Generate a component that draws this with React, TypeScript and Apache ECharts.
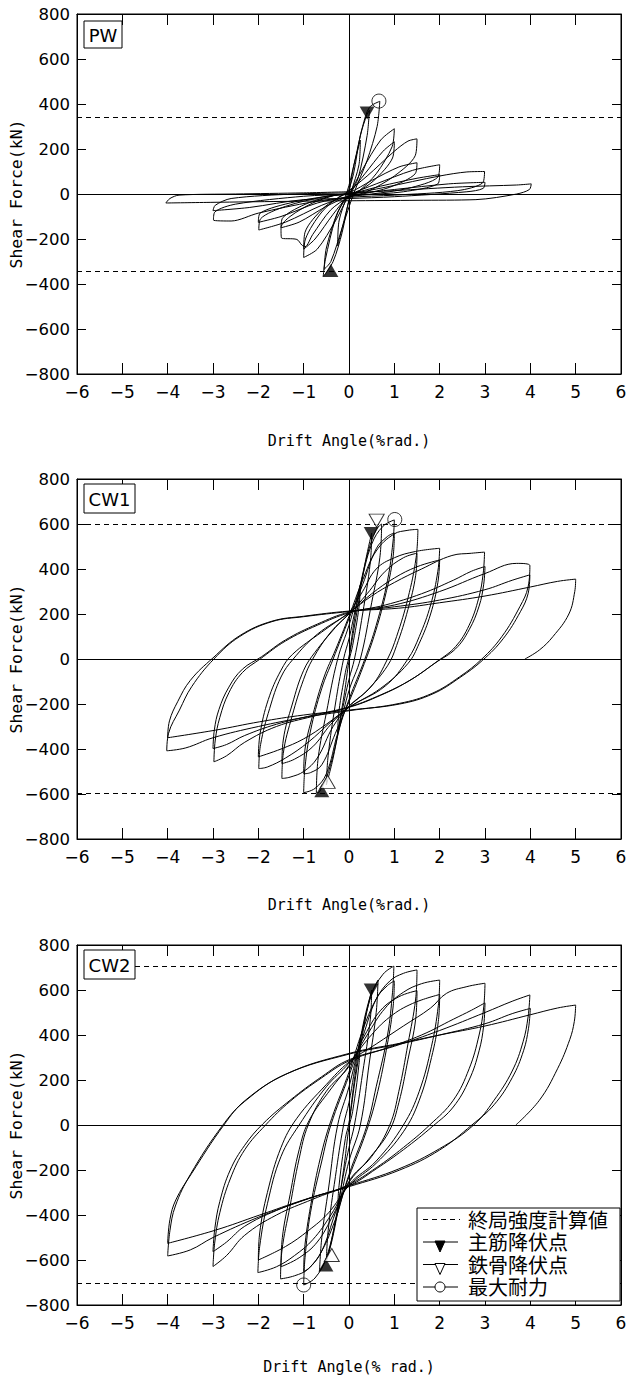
import React, { useEffect, useRef } from "react";
import * as echarts from "echarts";

const FONT_LEGEND = "'Liberation Sans', 'Noto Sans CJK JP', sans-serif";
const FONT_TICK = "'DejaVu Sans', 'Noto Sans', sans-serif";
const FONT_TITLE = "'DejaVu Sans Mono', 'Liberation Mono', monospace";

// ---- axis ticks ----
const xMin = -6, xMax = 6, xStep = 1;
const yMin = -800, yMax = 800, yStep = 200;

// ---- panel labels / titles ----
const panelNames = ["PW", "CW1", "CW2"];
const xTitles = ["Drift Angle(%rad.)", "Drift Angle(%rad.)", "Drift Angle(% rad.)"];
const yTitle = "Shear Force(kN)";
const legendTexts = ["終局強度計算値", "主筋降伏点", "鉄骨降伏点", "最大耐力"];

// ---- ultimate strength (dashed lines) ----
const ultimateStrength = [343, 598, 705];

// ---- PW hysteresis (drift %rad, shear kN) ----
const pwLoop1 = [[0,0],[0.1,120],[0.25,240],[0.22,130],[0.05,10],[-0.1,-110],[-0.25,-230],[-0.22,-120],[-0.05,-10]];
const pwLoop2 = [[0.1,90],[0.25,260],[0.4,355],[0.45,372],[0.4,260],[0.2,70],[0.02,-10],[-0.15,-170],[-0.35,-300],[-0.57,-368],[-0.52,-290],[-0.3,-110],[-0.05,5]];
const pwLoop3 = [[0.12,140],[0.3,300],[0.45,385],[0.68,412],[0.62,300],[0.4,150],[0.1,0],[-0.15,-150],[-0.4,-300],[-0.55,-335],[-0.5,-240],[-0.25,-80],[0,0]];
const pwLoop4 = [[0.3,110],[0.7,240],[1.0,290],[0.95,210],[0.6,90],[0.2,10],[0,-10],[-0.3,-120],[-0.7,-245],[-1.0,-282],[-0.96,-200],[-0.6,-80],[-0.2,-10],[0,5]];
const pwLoop5 = [[0.35,90],[0.75,190],[1.0,232],[0.96,160],[0.55,60],[0.15,5],[0,-5],[-0.35,-90],[-0.75,-200],[-1.0,-245],[-0.97,-170],[-0.55,-60],[-0.1,0]];
const pwLoop6 = [[0.4,80],[1.0,190],[1.3,235],[1.5,245],[1.46,170],[1.0,80],[0.4,10],[0,-15],[-0.4,-70],[-0.8,-180],[-0.97,-234],[-1.04,-227],[-1.15,-202],[-1.49,-195],[-1.5,-150],[-1.3,-100],[-0.8,-40],[-0.3,-5],[0,5]];
const pwLoop7 = [[0.5,60],[1.1,120],[1.5,139],[1.46,90],[0.9,30],[0.3,0],[0,-10],[-0.5,-55],[-1.1,-125],[-1.5,-150],[-1.46,-105],[-0.9,-40],[-0.3,-5],[0,0]];
const pwLoop8 = [[0.6,45],[1.4,105],[2.0,130],[1.96,75],[1.3,25],[0.5,0],[0,-10],[-0.6,-50],[-1.4,-125],[-1.99,-160],[-1.95,-110],[-1.4,-55],[-0.5,-10],[0,0]];
const pwLoop9 = [[0.7,35],[1.5,70],[2.0,86],[1.96,45],[1.2,10],[0.3,-5],[0,-12],[-0.7,-40],[-1.5,-100],[-2.0,-126],[-1.96,-85],[-1.2,-35],[-0.3,-5],[0,0]];
const pwLoop10 = [[0.8,30],[2.0,80],[2.6,98],[2.99,100],[2.95,50],[2.4,15],[1.0,-5],[0,-15],[-0.8,-35],[-2.0,-85],[-2.6,-120],[-2.99,-116],[-2.96,-80],[-2.5,-45],[-1.0,-10],[0,0]];
const pwLoop11 = [[1.0,20],[2.2,45],[3.0,52],[2.96,25],[2.6,10],[1.0,-12],[0,-20],[-1.0,-25],[-2.2,-60],[-3.0,-74],[-2.95,-50],[-2.6,-20],[-1.2,0],[0,5]];
const pwLoop12 = [[1.0,15],[2.5,32],[3.7,40],[4.02,45],[3.98,20],[3.7,0],[2.8,-25],[1.5,-28],[0,-30],[-1.5,-33],[-3.0,-37],[-4.04,-40],[-3.95,-20],[-3.75,-5],[-2.5,0],[-1.0,5],[0,10]];

// ---- CW1 hysteresis ----
const cw1Loop1 = [[0,0],[0.1,150],[0.25,330],[0.22,230],[0.08,60],[0,-10],[-0.1,-150],[-0.25,-330],[-0.22,-230],[-0.08,-60],[0,10]];
const cw1Loop2 = [[0.15,180],[0.35,420],[0.5,560],[0.47,430],[0.3,200],[0.12,0],[0,-90],[-0.15,-230],[-0.35,-440],[-0.5,-560],[-0.46,-430],[-0.3,-200],[-0.12,0],[0,90]];
const cw1Loop3 = [[0.15,230],[0.4,460],[0.6,575],[0.72,600],[0.68,450],[0.5,250],[0.25,0],[0,-140],[-0.2,-300],[-0.45,-500],[-0.65,-590],[-0.72,-595],[-0.68,-440],[-0.5,-240],[-0.25,0],[0,150]];
const cw1Loop4 = [[0.25,330],[0.5,510],[0.75,590],[1.0,618],[0.97,520],[0.85,350],[0.6,150],[0.35,0],[0,-180],[-0.25,-330],[-0.5,-510],[-0.75,-575],[-1.0,-594],[-0.97,-480],[-0.85,-320],[-0.6,-130],[-0.35,0],[0,180]];
const cw1Loop5 = [[0.3,330],[0.6,490],[0.85,545],[1.0,560],[0.97,450],[0.8,280],[0.55,100],[0.3,-40],[0,-190],[-0.3,-330],[-0.6,-470],[-0.85,-505],[-1.0,-510],[-0.97,-400],[-0.8,-250],[-0.55,-80],[-0.3,40],[0,190]];
const cw1Loop6 = [[0.3,350],[0.6,480],[0.99,555],[1.3,572],[1.52,576],[1.48,450],[1.3,270],[1.05,100],[0.85,0],[0.5,-120],[0,-210],[-0.35,-300],[-0.7,-440],[-1.0,-500],[-1.3,-525],[-1.48,-531],[-1.45,-420],[-1.25,-250],[-1.0,-90],[-0.8,0],[-0.4,120],[0,200]];
const cw1Loop7 = [[0.4,290],[0.8,390],[1.2,450],[1.5,470],[1.47,370],[1.3,220],[1.05,60],[0.85,-30],[0.4,-140],[0,-210],[-0.4,-290],[-0.8,-390],[-1.2,-445],[-1.48,-465],[-1.45,-360],[-1.25,-200],[-1.0,-50],[-0.75,30],[-0.3,140],[0,205]];
const cw1Loop8 = [[0.3,300],[0.6,400],[1.0,450],[1.47,478],[2.0,492],[1.96,390],[1.8,240],[1.55,100],[1.3,0],[0.8,-120],[0,-215],[-0.4,-280],[-0.9,-370],[-1.4,-440],[-1.8,-480],[-1.99,-487],[-1.95,-380],[-1.75,-220],[-1.5,-80],[-1.23,0],[-0.7,110],[0,205]];
const cw1Loop9 = [[0.5,290],[1.0,360],[1.5,410],[2.0,440],[1.96,340],[1.8,200],[1.55,70],[1.3,-20],[0.7,-130],[0,-215],[-0.5,-290],[-1.0,-355],[-1.5,-400],[-2.0,-435],[-1.96,-330],[-1.78,-180],[-1.5,-50],[-1.25,20],[-0.6,120],[0,205]];
const cw1Loop10 = [[0.5,280],[1.0,340],[1.6,400],[2.27,460],[2.7,470],[2.99,475],[2.96,380],[2.86,270],[2.65,150],[2.35,55],[1.95,-10],[1.3,-100],[0.6,-170],[0,-215],[-0.8,-255],[-1.6,-300],[-2.3,-370],[-2.7,-430],[-2.98,-457],[-2.95,-360],[-2.85,-260],[-2.65,-150],[-2.35,-60],[-1.96,0],[-1.4,80],[-0.7,150],[0,205]];
const cw1Loop11 = [[0.8,240],[1.6,290],[2.3,350],[2.7,390],[3.0,411],[2.97,330],[2.87,235],[2.65,130],[2.35,45],[1.92,-15],[1.3,-100],[0.6,-168],[0,-213],[-0.8,-250],[-1.6,-290],[-2.3,-340],[-2.7,-380],[-3.0,-398],[-2.97,-315],[-2.87,-225],[-2.65,-125],[-2.35,-45],[-1.93,10],[-1.4,85],[-0.7,155],[0,208]];
const cw1Loop12 = [[1.0,240],[2.0,300],[3.0,380],[3.7,425],[3.99,415],[3.95,320],[3.77,233],[3.37,99],[2.93,0],[2.44,-79],[1.83,-153],[1.12,-197],[0,-230],[-1.0,-260],[-2.0,-300],[-3.0,-350],[-3.6,-395],[-4.02,-408],[-3.98,-330],[-3.74,-227],[-3.47,-123],[-2.98,0],[-2.41,100],[-1.7,166],[-1.0,188],[0,211]];
const cw1Loop13 = [[1.0,232],[2.0,262],[3.0,308],[3.6,350],[3.99,374],[3.95,290],[3.78,210],[3.4,90],[2.95,-5],[2.45,-82],[1.85,-155],[1.12,-200],[0,-227],[-1.0,-249],[-1.97,-279],[-2.94,-316],[-4.0,-350],[-3.96,-275],[-3.78,-190],[-3.5,-95],[-3.0,5],[-2.4,105],[-1.7,168],[-1.0,190],[0,213]];
const cw1Loop14 = [[1.1,226],[2.0,250],[3.0,280],[4.0,320],[4.6,345],[5.0,355],[4.98,300],[4.85,200],[4.5,100],[4.2,40],[3.88,0]];

// ---- CW2 hysteresis ----
const cw2Loop1 = [[0,0],[0.1,170],[0.25,380],[0.22,270],[0.08,60],[0,-10],[-0.1,-170],[-0.25,-380],[-0.22,-270],[-0.08,-60],[0,10]];
const cw2Loop2 = [[0.15,220],[0.35,460],[0.5,600],[0.47,470],[0.3,230],[0.12,0],[0,-100],[-0.15,-250],[-0.35,-480],[-0.5,-610],[-0.46,-470],[-0.3,-230],[-0.12,0],[0,100]];
const cw2Loop3 = [[0.2,330],[0.45,560],[0.64,644],[0.6,500],[0.45,280],[0.25,0],[0,-160],[-0.2,-340],[-0.45,-570],[-0.65,-650],[-0.6,-500],[-0.45,-280],[-0.25,0],[0,170]];
const cw2Loop4 = [[0.25,380],[0.5,580],[0.75,670],[0.99,706],[0.96,590],[0.85,400],[0.6,170],[0.4,0],[0,-220],[-0.25,-390],[-0.5,-590],[-0.75,-680],[-1.0,-711],[-0.97,-590],[-0.85,-390],[-0.6,-160],[-0.4,0],[0,220]];
const cw2Loop5 = [[0.3,390],[0.6,560],[0.85,620],[1.0,640],[0.97,520],[0.82,330],[0.6,120],[0.38,-30],[0,-230],[-0.3,-390],[-0.6,-560],[-0.85,-630],[-1.0,-652],[-0.97,-530],[-0.82,-330],[-0.6,-120],[-0.38,30],[0,235]];
const cw2Loop6 = [[0.3,420],[0.6,560],[0.9,640],[1.2,674],[1.5,689],[1.47,560],[1.3,360],[1.1,150],[0.9,0],[0.5,-140],[0,-250],[-0.3,-420],[-0.6,-560],[-0.9,-640],[-1.2,-670],[-1.51,-684],[-1.48,-560],[-1.3,-360],[-1.1,-150],[-0.9,0],[-0.5,150],[0,260]];
const cw2Loop7 = [[0.35,400],[0.7,510],[1.1,570],[1.5,597],[1.47,470],[1.3,290],[1.1,100],[0.88,-30],[0.4,-160],[0,-255],[-0.35,-400],[-0.7,-520],[-1.1,-590],[-1.5,-630],[-1.47,-500],[-1.3,-310],[-1.1,-110],[-0.88,20],[-0.4,160],[0,265]];
const cw2Loop8 = [[0.4,400],[0.8,520],[1.2,590],[1.6,628],[2.0,644],[1.97,530],[1.82,350],[1.55,150],[1.2,0],[0.6,-160],[0,-265],[-0.4,-400],[-0.8,-510],[-1.2,-580],[-1.6,-630],[-2.01,-656],[-1.97,-540],[-1.8,-350],[-1.5,-140],[-1.1,0],[-0.5,170],[0,275]];
const cw2Loop9 = [[0.45,390],[0.9,480],[1.4,540],[2.0,580],[1.97,460],[1.82,300],[1.55,110],[1.2,-30],[0.6,-170],[0,-270],[-0.45,-390],[-0.9,-470],[-1.4,-540],[-2.0,-600],[-1.97,-480],[-1.8,-300],[-1.5,-100],[-1.15,30],[-0.5,180],[0,280]];
const cw2Loop10 = [[0.6,360],[1.2,440],[1.8,520],[2.15,585],[2.6,615],[3.0,630],[2.97,520],[2.87,400],[2.65,250],[2.3,110],[1.78,0],[1.2,-100],[0.6,-190],[0,-265],[-0.8,-330],[-1.6,-400],[-2.3,-490],[-2.7,-580],[-3.0,-629],[-2.96,-520],[-2.85,-390],[-2.62,-240],[-2.3,-110],[-1.84,0],[-1.3,105],[-0.6,210],[0,285]];
const cw2Loop11 = [[0.8,340],[1.6,400],[2.3,470],[2.7,510],[3.0,543],[2.97,440],[2.87,330],[2.65,200],[2.3,80],[1.85,-5],[1.2,-110],[0.6,-195],[0,-270],[-0.8,-320],[-1.6,-380],[-2.3,-450],[-2.7,-520],[-3.0,-563],[-2.96,-460],[-2.85,-340],[-2.62,-200],[-2.3,-90],[-1.9,5],[-1.3,110],[-0.6,215],[0,290]];
const cw2Loop12 = [[1.0,350],[2.0,420],[3.0,500],[3.6,550],[3.99,578],[3.95,480],[3.84,370],[3.6,240],[3.2,110],[2.75,0],[2.0,-105],[1.1,-195],[0,-270],[-1.0,-335],[-2.0,-410],[-3.0,-500],[-3.5,-555],[-4.0,-582],[-3.95,-470],[-3.83,-360],[-3.5,-220],[-2.8,-5],[-2.3,105],[-1.4,225],[0,315]];
const cw2Loop13 = [[1.12,360],[2.0,400],[3.0,450],[3.6,495],[4.0,518],[3.96,430],[3.85,330],[3.6,210],[3.2,90],[2.71,0],[2.0,-111],[1.12,-200],[0,-274],[-1.0,-333],[-1.97,-400],[-2.94,-467],[-4.0,-526],[-3.95,-420],[-3.82,-333],[-3.47,-215],[-2.76,0],[-2.28,111],[-1.35,230],[0,318]];
const cw2Loop14 = [[1.12,363],[2.0,400],[3.0,440],[4.0,490],[4.6,520],[5.0,533],[4.97,460],[4.87,380],[4.6,250],[4.2,110],[3.68,0]];

// ---- marker points ----
const pwMainYield = [[0.4,360],[-0.4,-340]];
const pwSteelYield: number[][] = [];
const pwMax = [[0.66,413]];
const cw1MainYield = [[0.49,558],[-0.6,-586]];
const cw1SteelYield = [[0.61,615],[-0.47,-546]];
const cw1Max = [[1.01,620]];
const cw2MainYield = [[0.49,600],[-0.51,-622]];
const cw2SteelYield = [[-0.38,-578]];
const cw2Max = [[-1.0,-711]];

const pwPath = [...pwLoop1, ...pwLoop2, ...pwLoop3, ...pwLoop4, ...pwLoop5, ...pwLoop6, ...pwLoop7, ...pwLoop8, ...pwLoop9, ...pwLoop10, ...pwLoop11, ...pwLoop12];
const cw1Path = [...cw1Loop1, ...cw1Loop2, ...cw1Loop3, ...cw1Loop4, ...cw1Loop5, ...cw1Loop6, ...cw1Loop7, ...cw1Loop8, ...cw1Loop9, ...cw1Loop10, ...cw1Loop11, ...cw1Loop12, ...cw1Loop13, ...cw1Loop14];
const cw2Path = [...cw2Loop1, ...cw2Loop2, ...cw2Loop3, ...cw2Loop4, ...cw2Loop5, ...cw2Loop6, ...cw2Loop7, ...cw2Loop8, ...cw2Loop9, ...cw2Loop10, ...cw2Loop11, ...cw2Loop12, ...cw2Loop13, ...cw2Loop14];

const panels = [
  { path: pwPath, main: pwMainYield, steel: pwSteelYield, max: pwMax, smooth: 0.3 },
  { path: cw1Path, main: cw1MainYield, steel: cw1SteelYield, max: cw1Max, smooth: 0.4 },
  { path: cw2Path, main: cw2MainYield, steel: cw2SteelYield, max: cw2Max, smooth: 0.4 },
];

// ---- layout ----
const W = 628, H = 1386;
const gridLeft = 77, gridRight = 7, gridH = 360;
const panelTops = [14, 479, 945];
const xNameGaps = [59, 58, 54];

const fmt = (v: number) => (v < 0 ? "\u2212" + Math.abs(v) : String(v));

function buildOption(): any {
  const grid = panelTops.map((t) => ({
    left: gridLeft, right: gridRight, top: t, height: gridH,
    containLabel: false, outerBoundsMode: "none",
    show: true, borderColor: "#000", borderWidth: 1, backgroundColor: "transparent",
  }));
  const xAxis: any[] = [];
  const yAxis: any[] = [];
  panelTops.forEach((_, i) => {
    xAxis.push({
      gridIndex: i, type: "value", min: xMin, max: xMax, interval: xStep, position: "bottom",
      axisLine: { show: true, onZero: false, lineStyle: { color: "#000", width: 1 } },
      axisTick: { show: true, inside: true, length: 11, lineStyle: { color: "#000" } },
      axisLabel: { color: "#000", fontSize: 17, fontFamily: FONT_TICK, margin: 9, formatter: fmt },
      splitLine: { show: false },
      name: xTitles[i], nameLocation: "middle", nameGap: xNameGaps[i], nameMoveOverlap: false,
      nameTextStyle: { color: "#000", fontSize: 15, fontFamily: FONT_TITLE },
    });
    yAxis.push({
      gridIndex: i, type: "value", min: yMin, max: yMax, interval: yStep, position: "left",
      axisLine: { show: true, onZero: false, lineStyle: { color: "#000", width: 1 } },
      axisTick: { show: true, inside: true, length: 9, lineStyle: { color: "#000" } },
      axisLabel: { color: "#000", fontSize: 16.5, fontFamily: FONT_TICK, margin: 7, formatter: fmt },
      splitLine: { show: false },
      name: yTitle, nameLocation: "middle", nameGap: 52, nameMoveOverlap: false,
      nameTextStyle: { color: "#000", fontSize: 16.5, fontFamily: FONT_TITLE },
    });
  });
  panelTops.forEach((_, i) => {
    xAxis.push({
      gridIndex: i, type: "value", min: xMin, max: xMax, interval: xStep, position: "top",
      axisLine: { show: true, onZero: false, lineStyle: { color: "#000" } },
      axisTick: { show: true, inside: true, length: 11, lineStyle: { color: "#000" } },
      axisLabel: { show: false }, splitLine: { show: false },
    });
    yAxis.push({
      gridIndex: i, type: "value", min: yMin, max: yMax, interval: yStep, position: "right",
      axisLine: { show: true, onZero: false, lineStyle: { color: "#000" } },
      axisTick: { show: true, inside: true, length: 9, lineStyle: { color: "#000" } },
      axisLabel: { show: false }, splitLine: { show: false },
    });
  });

  const series: any[] = [];
  panels.forEach((p, i) => {
    const u = ultimateStrength[i];
    const dashed = { color: "#000", width: 1, type: [5, 4] };
    const solid = { color: "#000", width: 1, type: "solid" };
    const mlData: any[] = [
      { xAxis: 0, lineStyle: solid },
      { yAxis: 0, lineStyle: solid },
    ];
    if (i === 2) {
      mlData.push([{ coord: [-4.72, u], lineStyle: dashed }, { coord: [xMax, u] }]);
      mlData.push({ yAxis: -u, lineStyle: dashed });
    } else {
      mlData.push({ yAxis: u, lineStyle: dashed });
      mlData.push({ yAxis: -u, lineStyle: dashed });
    }
    series.push({
      type: "line", xAxisIndex: i, yAxisIndex: i, data: p.path,
      showSymbol: false, symbol: "none", smooth: p.smooth,
      lineStyle: { color: "#000", width: 1 }, z: 3,
      markLine: { silent: true, symbol: ["none", "none"], label: { show: false }, data: mlData, z: 2 },
    });
    series.push({
      type: "scatter", xAxisIndex: i, yAxisIndex: i, symbol: "triangle", symbolSize: [15, 13],
      data: p.main.map((d) => ({ value: d, symbolRotate: d[1] > 0 ? 180 : 0 })),
      itemStyle: { color: "#000" }, z: 5,
    });
    series.push({
      type: "scatter", xAxisIndex: i, yAxisIndex: i, symbol: "triangle", symbolSize: [15, 13],
      data: p.steel.map((d) => ({ value: d, symbolRotate: d[1] > 0 ? 180 : 0 })),
      itemStyle: { color: "#fff", borderColor: "#000", borderWidth: 1 }, z: 5,
    });
    series.push({
      type: "scatter", xAxisIndex: i, yAxisIndex: i, symbol: "circle", symbolSize: 14,
      data: p.max, itemStyle: { color: "rgba(255,255,255,0)", borderColor: "#000", borderWidth: 1 }, z: 5,
    });
  });

  const txt = (x: number, y: number, text: string, size: number, family: string, align = "left") => ({
    type: "text", x, y, z: 101,
    style: { text, fontSize: size, fontFamily: family, fill: "#000", textAlign: align, textVerticalAlign: "middle", align, verticalAlign: "middle" },
  });
  const graphic: any[] = [];
  const boxes = [
    { x: 84, y: 21, w: 38, h: 27 },
    { x: 84, y: 484, w: 51, h: 29 },
    { x: 84, y: 950, w: 51, h: 29 },
  ];
  boxes.forEach((b, i) => {
    graphic.push({ type: "rect", z: 100, shape: { x: b.x, y: b.y, width: b.w, height: b.h }, style: { fill: "#fff", stroke: "#000", lineWidth: 1 } });
    graphic.push(txt(b.x + b.w / 2, b.y + b.h / 2 + 1, panelNames[i], 18, FONT_TICK, "center"));
  });
  // legend
  const lx = 417, ly = 1208, lw = 203, lh = 93;
  const rows = [1219.5, 1242, 1264.5, 1287];
  graphic.push({ type: "rect", z: 100, shape: { x: lx, y: ly, width: lw, height: lh }, style: { fill: "#fff", stroke: "#000", lineWidth: 1 } });
  graphic.push({ type: "line", z: 101, shape: { x1: 423, y1: rows[0], x2: 460, y2: rows[0] }, style: { stroke: "#000", lineWidth: 1, lineDash: [5, 4] } });
  graphic.push({ type: "line", z: 101, shape: { x1: 423, y1: rows[1], x2: 458, y2: rows[1] }, style: { stroke: "#000", lineWidth: 1 } });
  graphic.push({ type: "polygon", z: 102, shape: { points: [[435, rows[1] - 1], [445, rows[1] - 1], [440, rows[1] + 10]] }, style: { fill: "#000", stroke: "#000" } });
  graphic.push({ type: "line", z: 101, shape: { x1: 423, y1: rows[2], x2: 458, y2: rows[2] }, style: { stroke: "#000", lineWidth: 1 } });
  graphic.push({ type: "polygon", z: 102, shape: { points: [[435, rows[2] - 1], [445, rows[2] - 1], [440, rows[2] + 10]] }, style: { fill: "#fff", stroke: "#000", lineWidth: 1 } });
  graphic.push({ type: "line", z: 101, shape: { x1: 423, y1: rows[3], x2: 458, y2: rows[3] }, style: { stroke: "#000", lineWidth: 1 } });
  graphic.push({ type: "circle", z: 102, shape: { cx: 440, cy: rows[3], r: 5 }, style: { fill: "#fff", stroke: "#000", lineWidth: 1 } });
  legendTexts.forEach((t, k) => graphic.push(txt(468, rows[k] + 1, t, 20, FONT_LEGEND)));

  return { animation: false, backgroundColor: "#fff", grid, xAxis, yAxis, series, graphic };
}

export default function App() {
  const ref = useRef<HTMLDivElement>(null);
  useEffect(() => {
    if (!ref.current) return;
    const chart = echarts.init(ref.current, undefined, { renderer: "svg" });
    chart.setOption(buildOption());
    return () => chart.dispose();
  }, []);
  return <div ref={ref} style={{ position: "absolute", left: 0, top: 0, width: W, height: H, background: "#fff" }} />;
}
